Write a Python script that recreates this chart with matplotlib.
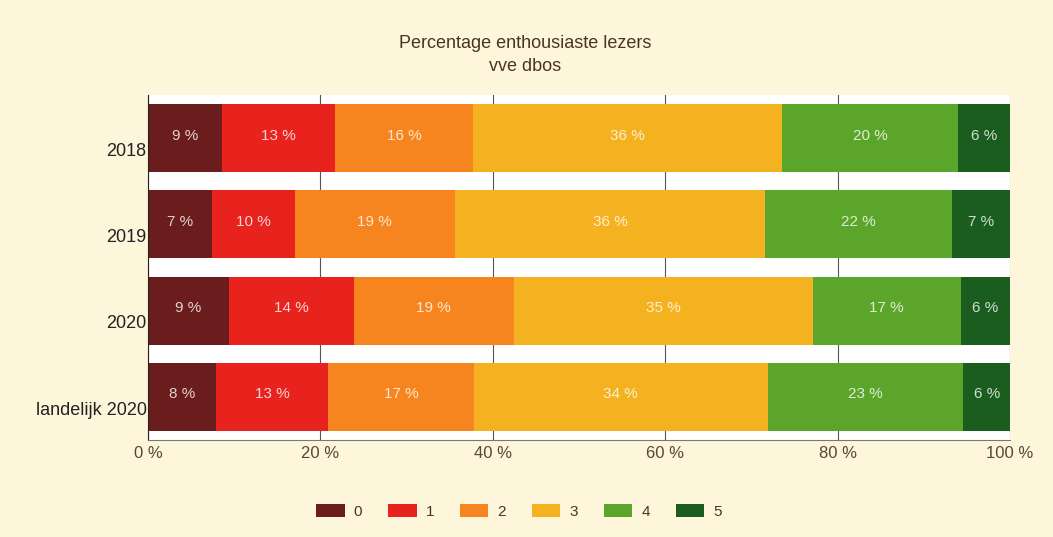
import matplotlib
matplotlib.use('Agg')
import matplotlib.pyplot as plt
import numpy as np

plt.rcParams['font.family'] = ['Liberation Sans Narrow', 'Liberation Sans', 'DejaVu Sans']

# data
groups = ['2018', '2019', '2020', 'landelijk 2020']
scores = ['0', '1', '2', '3', '4', '5']
# bar widths (percent) per score, one list per group
widths = [
    [8.6, 13.1, 16.0, 35.8, 20.5, 6.0],
    [7.4, 9.6, 18.6, 36.0, 21.7, 6.7],
    [9.4, 14.5, 18.5, 34.7, 17.2, 5.7],
    [7.9, 13.0, 16.9, 34.1, 22.7, 5.4],
]
# percentages printed in the bars
labels = [
    [9, 13, 16, 36, 20, 6],
    [7, 10, 19, 36, 22, 7],
    [9, 14, 19, 35, 17, 6],
    [8, 13, 17, 34, 23, 6],
]
colors = ['#6b1c1c', '#e8231e', '#f6851f', '#f4b220', '#5aa52a', '#1b5d1f']

bg = '#fdf6da'
fig = plt.figure(figsize=(10.53, 5.37), dpi=100, facecolor=bg)
ax = fig.add_axes([0.1406, 0.1806, 0.8186, 0.6425])
ax.set_facecolor('white')

w = np.array(widths)
y = np.arange(len(groups))
left = np.zeros(len(groups))
for j, s in enumerate(scores):
    ax.barh(y, w[:, j], left=left, height=0.79, color=colors[j], label=s, zorder=2)
    for i in range(len(groups)):
        ax.text(left[i] + w[i, j] / 2, y[i] - 0.03, f'{labels[i][j]} %',
                ha='center', va='center', color='white', alpha=0.8,
                fontsize=11, zorder=3)
    left += w[:, j]

ax.set_xlim(0, 100)
ax.set_ylim(len(groups) - 0.5, -0.5)
# category labels sit a little below the bar centres in the original
ax.set_yticks(y + 0.13)
ax.set_yticklabels(groups, fontsize=13, color='#222222')
ax.set_xticks([0, 20, 40, 60, 80, 100])
ax.set_xticklabels(['0 %', '20 %', '40 %', '60 %', '80 %', '100 %'],
                   fontsize=12, color='#5a4636')
ax.tick_params(axis='y', length=0, pad=1)
ax.tick_params(axis='x', length=0, pad=4)
ax.grid(axis='x', color='#555555', linewidth=0.8, zorder=1)

for side in ['top', 'right']:
    ax.spines[side].set_visible(False)
ax.spines['left'].set_color('#222222')
ax.spines['bottom'].set_color('#777777')

fig.text(0.499, 0.898, 'Percentage enthousiaste lezers\nvve dbos', ha='center',
         va='center', fontsize=13, color='#4a3424', linespacing=1.45)

fig.legend(loc='center', bbox_to_anchor=(0.493, 0.047), ncol=6, frameon=False,
           handlelength=1.85, handleheight=0.9, handletextpad=0.6,
           columnspacing=1.7, fontsize=11, labelcolor='#4a3424')

plt.savefig('out.png', facecolor=bg)
